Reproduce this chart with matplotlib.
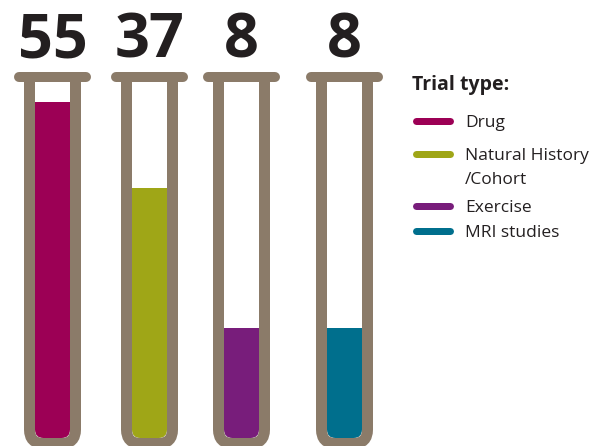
import matplotlib
matplotlib.use("Agg")
import matplotlib.pyplot as plt
from matplotlib.patches import FancyBboxPatch, Rectangle

# trial counts by type
categories = ["Drug", "Natural History\n/Cohort", "Exercise", "MRI studies"]
counts = [55, 37, 8, 8]
colors = ["#9c0055", "#9fa617", "#781d7b", "#006f8d"]

tube_color = "#8b7b69"
text_color = "#231f20"

W, H = 601, 446
fig = plt.figure(figsize=(W / 100, H / 100), dpi=100)

# tube centres in pixels, fill starts at inner bottom (value "base")
centers = [52.5, 149.5, 241.5, 344.5]
inner_bottom = 438.0
px_per_unit = 4.8
base = -15

# value axes: pixel p -> value (inner_bottom - p)/px_per_unit + base
ax_val = fig.add_axes([0, 0, 1, 1])
ax_val.set_xlim(0, W)
ax_val.set_ylim((inner_bottom - H) / px_per_unit + base, inner_bottom / px_per_unit + base)
ax_val.axis("off")

# decoration axes in pixel coordinates
ax = fig.add_axes([0, 0, 1, 1])
ax.set_xlim(0, W)
ax.set_ylim(H, 0)
ax.axis("off")
ax.patch.set_alpha(0)

lw = 11 * 72 / 100
for c, v, col in zip(centers, counts, colors):
    inner = FancyBboxPatch((c - 17.5, 0), 35, inner_bottom,
                           boxstyle="round,pad=0,rounding_size=8.5",
                           transform=ax.transData)
    bars = ax_val.bar(c, v - base, bottom=base, width=35, color=col, linewidth=0)
    for b in bars:
        b.set_clip_path(inner)

    tube = FancyBboxPatch((c - 23, 40), 46, inner_bottom + 5.5 - 40,
                          boxstyle="round,pad=0,rounding_size=14",
                          facecolor="none", edgecolor=tube_color, linewidth=lw)
    ax.add_patch(tube)
    tube.set_clip_path(Rectangle((0, 77), W, H, transform=ax.transData))
    ax.plot([c - 33.5, c + 33.5], [77, 77], color=tube_color, lw=10 * 72 / 100,
            solid_capstyle="round")
    ax.text(c, 58, str(v), ha="center", va="baseline", fontsize=44,
            fontweight="bold", family="Open Sans", color=text_color)

# legend
ax.text(412, 90, "Trial type:", fontsize=14, fontweight="bold", family="Open Sans",
        color=text_color, va="baseline")
line_y = [121, 154, 206, 231]
for y, lab, col in zip(line_y, categories, colors):
    ax.plot([415.5, 449.5], [y, y], color=col, lw=7 * 72 / 100, solid_capstyle="round")
    for k, part in enumerate(lab.split("\n")):
        ax.text(465, y + 6 + 24 * k, part, fontsize=12.5, family="Open Sans",
                color=text_color, va="baseline")

fig.savefig("out.png", dpi=100)
